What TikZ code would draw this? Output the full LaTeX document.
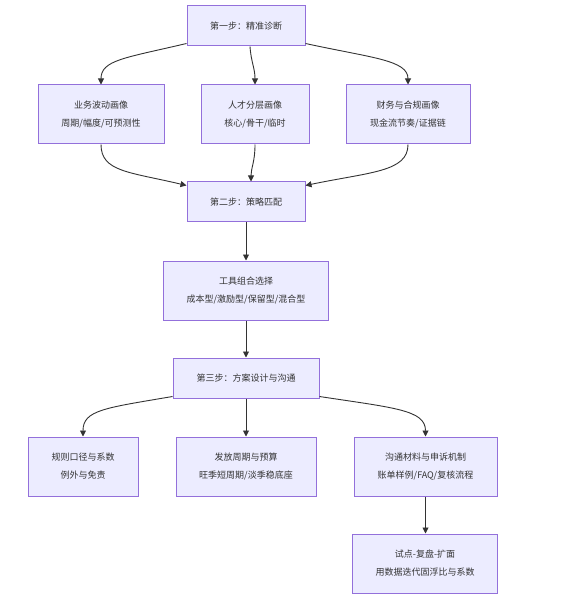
\documentclass[tikz,border=0pt]{standalone}
\usepackage{fontspec}
\setmainfont{Noto Sans CJK SC}
\usetikzlibrary{arrows.meta}
\definecolor{nodefill}{HTML}{ECECFF}
\definecolor{nodedraw}{HTML}{9370DB}
\definecolor{edgecol}{HTML}{333333}
\begin{document}
\begin{tikzpicture}[x=1pt,y=-1pt,
  box/.style={draw=nodedraw, fill=nodefill, line width=1pt, inner sep=0pt,
    align=center, font=\fontsize{9}{18}\selectfont, text=edgecol},
  conn/.style={draw=edgecol, line width=0.9pt, -{Triangle[length=6pt,width=6pt]}}]
\useasboundingbox[fill=white] (0,0) rectangle (560,609);
\node[box, minimum width=118, minimum height=40] (n1) at (246,26) {第一步：精准诊断};
\node[box, minimum width=126, minimum height=59] (a) at (101,114.5) {业务波动画像\\周期/幅度/可预测性};
\node[box, minimum width=108, minimum height=59] (b) at (255,114.5) {人才分层画像\\核心/骨干/临时};
\node[box, minimum width=124, minimum height=59] (c) at (408,114.5) {财务与合规画像\\现金流节奏/证据链};
\node[box, minimum width=118, minimum height=40] (n2) at (246,202) {第二步：策略匹配};
\node[box, minimum width=165, minimum height=59] (t) at (246,290.5) {工具组合选择\\成本型/激励型/保留型/混合型};
\node[box, minimum width=146, minimum height=40] (n3) at (246,378) {第三步：方案设计与沟通};
\node[box, minimum width=110, minimum height=59] (d) at (83,466.5) {规则口径与系数\\例外与免责};
\node[box, minimum width=140, minimum height=59] (e) at (246,466.5) {发放周期与预算\\旺季短周期/淡季稳底座};
\node[box, minimum width=143, minimum height=59] (f) at (425.5,466.5) {沟通材料与申诉机制\\账单样例/FAQ/复核流程};
\node[box, minimum width=145, minimum height=59] (g) at (425,563.5) {试点-复盘-扩面\\用数据迭代固浮比与系数};

\draw[conn] ([yshift=3pt]n1.south west) .. controls (125,58) and (101,60) .. (a.north);
\draw[conn] ([xshift=4pt]n1.south) .. controls (251,62) and (255,68) .. (b.north);
\draw[conn] ([yshift=3pt]n1.south east) .. controls (372,58) and (408,60) .. (c.north);

\draw[conn] (a.south) .. controls (101,172) and (130,172) .. ([yshift=-4pt]n2.north west);
\draw[conn] (b.south) .. controls (255,162) and (251,168) .. ([xshift=5pt]n2.north);
\draw[conn] (c.south) .. controls (408,172) and (370,172) .. ([yshift=-4pt]n2.north east);

\draw[conn] (n2.south) -- (t.north);
\draw[conn] (t.south) -- (n3.north);

\draw[conn] ([yshift=2pt]n3.south west) .. controls (105,408) and (83,410) .. (d.north);
\draw[conn] (n3.south) -- (e.north);
\draw[conn] ([yshift=2pt]n3.south east) .. controls (395,408) and (425.5,410) .. (f.north);

\draw[conn] (f.south) -- (f.south |- g.north);
\end{tikzpicture}
\end{document}
